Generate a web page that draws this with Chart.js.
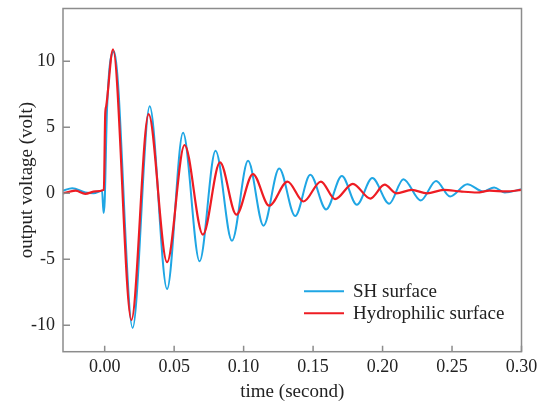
<!DOCTYPE html>
<html>
<head>
<meta charset="utf-8">
<script src="https://cdn.jsdelivr.net/npm/chart.js@4/dist/chart.umd.min.js"></script>
<style>
  html, body { margin: 0; padding: 0; background: #fff; }
  canvas { display: block; }
</style>
</head>
<body>
<canvas id="signalChart" width="542" height="403"></canvas>
<script>
// values: [time (s), voltage (V)]
const shTime = [-0.03, -0.0234, -0.0139, -0.008, -0.0019, -0.0008, 0.0, 0.0017, 0.0068, 0.0201, 0.0324, 0.0449, 0.0564, 0.0683, 0.0798, 0.0916, 0.1032, 0.1143, 0.1256, 0.1371, 0.148, 0.1594, 0.1707, 0.1815, 0.1926, 0.2048, 0.215, 0.2275, 0.2385, 0.2486, 0.261, 0.2725, 0.2803, 0.288, 0.3];
const shVolt = [0.2, 0.39, 0.06, 0.0, 0.2, -1.5, -0.6, 6.4, 10.75, -10.2, 6.6, -7.25, 4.58, -5.15, 3.23, -3.6, 2.46, -2.45, 1.88, -1.72, 1.4, -1.22, 1.32, -0.87, 1.15, -0.79, 1.07, -0.54, 0.94, -0.24, 0.69, 0.14, 0.44, 0.06, 0.3];

const hydroTime = [-0.03, -0.021, -0.014, -0.0067, -0.0006, 0.0004, 0.0011, 0.006, 0.0192, 0.0316, 0.0449, 0.0575, 0.0707, 0.083, 0.0948, 0.1067, 0.1184, 0.1316, 0.1431, 0.1556, 0.1658, 0.1786, 0.1912, 0.2015, 0.21, 0.221, 0.232, 0.244, 0.256, 0.268, 0.277, 0.289, 0.3];
const hydroVolt = [0.0, 0.2, -0.04, 0.14, 0.26, 6.0, 6.6, 10.9, -9.6, 6.0, -5.22, 3.66, -3.13, 2.34, -1.62, 1.46, -0.94, 0.89, -0.62, 0.89, -0.44, 0.72, -0.4, 0.65, 0.0, 0.26, 0.0, 0.26, 0.14, 0.06, 0.2, 0.14, 0.26];

const xTicks = [0, 0.05, 0.10, 0.15, 0.20, 0.25, 0.30];
const yTicks = [-10, -5, 0, 5, 10];

const serif = 'Liberation Serif';
const inkColor = '#222';
const frameColor = '#8c8c8c';

function toPoints(xs, ys) {
    return xs.map(function (x, i) { return { x: x, y: ys[i] }; });
}

// frame, inward tick marks and the legend inside the plot
const framePlugin = {
    id: 'frame',
    afterDatasetsDraw: function (chart) {
        const ctx = chart.ctx;
        const area = chart.chartArea;
        const xs = chart.scales.x;
        const ys = chart.scales.y;
        ctx.save();
        ctx.strokeStyle = frameColor;
        ctx.lineWidth = 1.5;
        ctx.strokeRect(area.left, area.top, area.right - area.left, area.bottom - area.top);
        ctx.beginPath();
        xTicks.forEach(function (v) {
            const px = xs.getPixelForValue(v);
            ctx.moveTo(px, area.bottom);
            ctx.lineTo(px, area.bottom - 6);
        });
        yTicks.forEach(function (v) {
            const py = ys.getPixelForValue(v);
            ctx.moveTo(area.left, py);
            ctx.lineTo(area.left + 7, py);
        });
        ctx.stroke();

        // legend
        const lx = area.left + 241;
        let ly = area.bottom - 60.5;
        ctx.font = '19px "' + serif + '"';
        ctx.textBaseline = 'middle';
        ctx.fillStyle = inkColor;
        chart.data.datasets.forEach(function (ds) {
            ctx.strokeStyle = ds.borderColor;
            ctx.lineWidth = 2;
            ctx.beginPath();
            ctx.moveTo(lx, ly);
            ctx.lineTo(lx + 40, ly);
            ctx.stroke();
            ctx.fillText(ds.label, lx + 49, ly + 1);
            ly += 22;
        });
        ctx.restore();
    }
};

function noEdgePadding(scale) {
    scale.paddingTop = 0;
    scale.paddingBottom = 0;
    scale.paddingLeft = 0;
    scale.paddingRight = 0;
}

const ctx = document.getElementById('signalChart').getContext('2d');
const signalChart = new Chart(ctx, {
    type: 'line',
    data: {
        datasets: [{
            label: 'SH surface',
            data: toPoints(shTime, shVolt),
            borderColor: '#1fa6e4',
            borderWidth: 2,
            pointRadius: 0,
            cubicInterpolationMode: 'monotone',
            order: 2
        }, {
            label: 'Hydrophilic surface',
            data: toPoints(hydroTime, hydroVolt),
            borderColor: '#ee1c23',
            borderWidth: 2.2,
            pointRadius: 0,
            cubicInterpolationMode: 'monotone',
            order: 1
        }]
    },
    options: {
        responsive: false,
        animation: false,
        layout: { padding: { left: 0, right: 20.5, top: 8.5, bottom: 0 } },
        plugins: {
            legend: { display: false },
            tooltip: { enabled: false }
        },
        scales: {
            x: {
                type: 'linear',
                min: -0.03,
                max: 0.30,
                grid: { display: false, drawTicks: false },
                border: { display: false },
                afterBuildTicks: function (scale) {
                    scale.ticks = xTicks.map(function (v) { return { value: v }; });
                },
                afterFit: function (scale) {
                    scale.height = 51.3;
                    noEdgePadding(scale);
                },
                ticks: {
                    padding: 5,
                    maxRotation: 0,
                    autoSkip: false,
                    color: inkColor,
                    font: { family: serif, size: 18 },
                    callback: function (v) { return Number(v).toFixed(2); }
                },
                title: {
                    display: true,
                    text: 'time (second)',
                    color: inkColor,
                    font: { family: serif, size: 19 },
                    padding: { top: 1.5, bottom: 0 }
                }
            },
            y: {
                min: -12,
                max: 14,
                grid: { display: false, drawTicks: false },
                border: { display: false },
                afterBuildTicks: function (scale) {
                    scale.ticks = yTicks.map(function (v) { return { value: v }; });
                },
                afterFit: function (scale) {
                    scale.width = 63;
                    noEdgePadding(scale);
                },
                ticks: {
                    padding: 8,
                    color: inkColor,
                    font: { family: serif, size: 18 },
                    callback: function (v) { return String(v); }
                },
                title: {
                    display: true,
                    text: 'output voltage (volt)',
                    color: inkColor,
                    font: { family: serif, size: 19 },
                    padding: { top: 16, bottom: 0 }
                }
            }
        }
    },
    plugins: [framePlugin]
});
</script>
</body>
</html>
